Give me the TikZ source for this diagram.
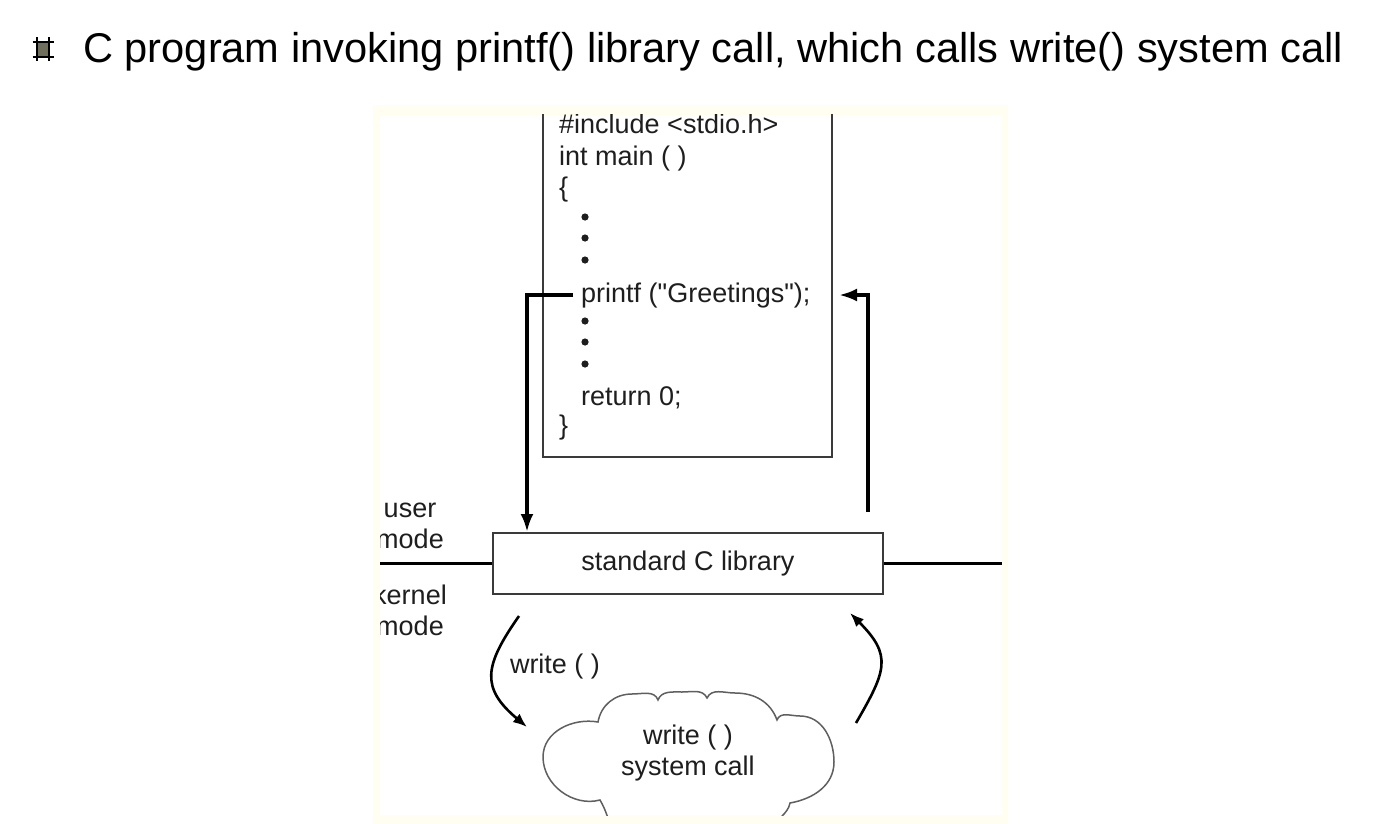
\documentclass[tikz,border=0pt]{standalone}
\usepackage{fontspec}
\setmainfont{Liberation Sans}
\usetikzlibrary{arrows.meta,calc}
\definecolor{framecream}{RGB}{255,254,240}
\definecolor{boxgray}{RGB}{58,58,58}
\definecolor{cloudgray}{RGB}{95,95,95}
\definecolor{figtext}{RGB}{30,30,30}
\definecolor{bulletfill}{RGB}{110,110,90}
\newcommand{\straightdq}{\XeTeXglyph\XeTeXcharglyph"22\relax}

\begin{document}
\begin{tikzpicture}[x=1pt, y=1pt,
    figfont/.style={font=\fontsize{27}{31}\selectfont, text=figtext},
    codeline/.style={figfont, anchor=base west, inner sep=0pt},
    modelabel/.style={figfont, anchor=base, inner sep=0pt},
    bigarrow/.style={line width=3.5pt, -{Latex[length=18pt,width=13pt]}},
    arcarrow/.style={line width=2.6pt, -{Latex[length=14pt,width=11pt]}},
    modeline/.style={line width=3pt},
    libbox/.style={draw=boxgray, line width=2pt, fill=white,
        minimum width=390pt, minimum height=61pt, figfont}]
    \useasboundingbox (0,0) rectangle (1386,-824);

    % Title
    \fill[bulletfill] (37,-42) rectangle (49,-57);
    \draw[line width=2.6pt] (37,-37.5) -- (37,-61.5) (49,-37.5) -- (49,-61.5)
        (32.5,-42) -- (53.5,-42) (32.5,-57) -- (53.5,-57);
    \node[anchor=base west, inner sep=0pt, font=\fontsize{41.6}{50}\selectfont]
        (title) at (83,-63) {C program invoking printf() library call, which calls write() system call};

    % Figure frame
    \fill[framecream] (373,-105) rectangle (1008,-824);
    \fill[white] (380,-115) rectangle (1002,-815);

    \begin{scope}
        \clip (380,-115) rectangle (1002,-815);

        % Program text
        \node[draw=boxgray, line width=2pt, minimum width=289pt, minimum height=362pt,
            inner sep=0pt] (cbox) at (687.5,-276) {};
        \node[codeline] (inc) at (559,-134) {\#include <stdio.h>};
        \node[codeline] (mainl) at (559,-165) {int main ( )};
        \node[codeline] (obr) at (559,-196) {\{};
        \node[codeline] (printf) at (581,-302) {printf (\straightdq Greetings\straightdq);};
        \node[codeline] (ret) at (581,-405) {return 0;};
        \node[codeline] (cbr) at (559,-434) {\}};
        \foreach \y in {217,238,260,321,342,364} {
            \fill[figtext] (585,-\y) circle (3.6pt);
        }

        % Library box and mode boundary
        \node[libbox] (lib) at (688,-563.5) {standard C library};
        \coordinate (ul) at (380,-563.5);
        \coordinate (ur) at (1002,-563.5);
        \draw[modeline] (ul) -- (lib.west);
        \draw[modeline] (lib.east) -- (ur);

        \node[modelabel] (lusr) at (410,-517) {user};
        \node[modelabel] (lmu) at (410,-548) {mode};
        \node[modelabel] (lker) at (410,-604) {kernel};
        \node[modelabel] (lmk) at (410,-635) {mode};

        % Call and return
        \path (lib.north west) ++(35pt,0) coordinate (ldown);
        \path (lib.north east) ++(-16pt,20pt) coordinate (rup);
        \path (cbox.east |- printf.west) ++(6pt,0) coordinate (rtip);
        \draw[bigarrow] ([xshift=-8pt]printf.west) -| (ldown);
        \draw[bigarrow] (rup) |- (rtip);

        % System call cloud
        \draw[cloudgray, line width=1.5pt]
            (612,-830) to[out=110,in=300] (600,-800)
            to[out=195,in=270] (543,-757)
            to[out=90,in=170] (598,-722)
            to[out=80,in=180] (632,-694)
            to[out=0,in=110] (658,-700)
            to[out=70,in=180] (682,-692)
            to[out=0,in=115] (707,-698)
            to[out=65,in=180] (735,-693)
            to[out=0,in=110] (777,-720)
            to[out=70,in=180] (800,-716)
            to[out=0,in=90] (834,-762)
            to[out=270,in=10] (790,-803)
            to[out=260,in=90] (775,-830);
        \node[figfont, align=center, inner sep=0pt] (sysc) at (688,-753)
            {write ( )\\system call};

        \path (lib.south west) ++(27pt,-21pt) coordinate (lout);
        \path (lib.south east) ++(-34pt,-18pt) coordinate (rin);
        \coordinate (lin) at (527,-727);
        \coordinate (rout) at (856,-723);
        \draw[arcarrow] (lout) to[out=235,in=140,looseness=1.4] (lin);
        \draw[arcarrow] (rout) to[out=60,in=-45,looseness=1.4] (rin);
        \node[figfont] (wlab) at (555,-667) {write ( )};
    \end{scope}
\end{tikzpicture}
\end{document}
